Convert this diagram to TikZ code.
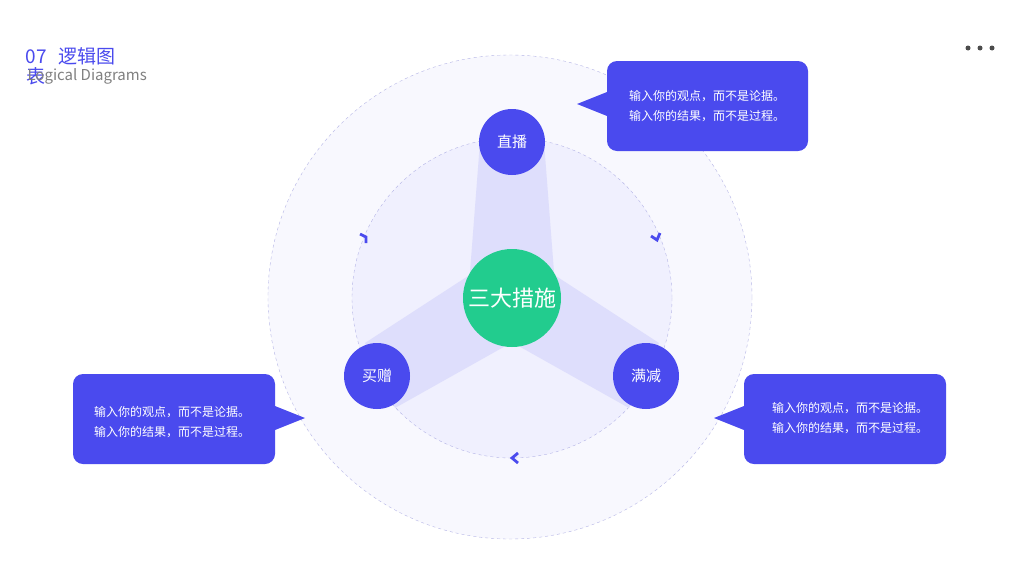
\documentclass[tikz,border=0pt]{standalone}
\usepackage{fontspec}
\setmainfont{Noto Sans CJK SC}
\usetikzlibrary{positioning}
\definecolor{mainblue}{HTML}{4A4AEE}
\definecolor{mintgreen}{HTML}{22CC8E}
\definecolor{ringline}{HTML}{B4B4E6}
\tikzset{
  hub/.style={circle,fill=mainblue,text=white,minimum size=66pt,inner sep=0pt,font=\fontsize{15}{17}\selectfont},
  core/.style={circle,fill=mintgreen,text=white,minimum size=98pt,inner sep=0pt,font=\fontsize{22}{24}\selectfont},
  bubble/.style={fill=mainblue,rounded corners=10pt},
  bubbletext/.style={text=white,align=left,font=\fontsize{12}{20}\selectfont},
  chev/.style={mainblue,line width=2.8pt},
}
\begin{document}
\begin{tikzpicture}[x=1pt,y=-1pt]
	\useasboundingbox (0,0) rectangle (1024,576);
	\fill[white] (0,0) rectangle (1024,576);
	% rings
	\fill[mainblue!4] (510,297) circle (242);
	\draw[ringline,dashed] (510,297) circle (242);
	\fill[mainblue!8] (512,298) circle (160);
	\draw[ringline,dashed] (512,298) circle (160);
	% beams
	\fill[mainblue!18] (480,142)--(544,142)--(556,298)--(468,298)--cycle;
	\fill[mainblue!18] (365,343)--(395,408)--(525,335)--(485,265)--cycle;
	\fill[mainblue!18] (659,343)--(629,408)--(499,335)--(539,265)--cycle;
	% nodes
	\node[core] (core) at (512,298) {三大措施};
	\node[hub] (live) at (512,142) {直播};
	\node[hub] (gift) at (377,376) {买赠};
	\node[hub] (cut) at (646,376) {满减};
	% chevrons
	\draw[chev] (360,234)--(366,237)--(366,243);
	\draw[chev] (651,236)--(657,240)--(660,233);
	\draw[chev] (518,453)--(512,458)--(518,463);
	% callouts
	\fill[bubble] (607,61) rectangle (808,151);
	\fill[mainblue] (577,104)--(612,90)--(612,118)--cycle;
	\node[bubbletext] (tipa) at (707,106) {输入你的观点，而不是论据。\\输入你的结果，而不是过程。};
	\fill[bubble] (73,374) rectangle (275,464);
	\fill[mainblue] (305,418)--(270,404)--(270,432)--cycle;
	\node[bubbletext] (tipb) at (172,422) {输入你的观点，而不是论据。\\输入你的结果，而不是过程。};
	\fill[bubble] (744,374) rectangle (946,464);
	\fill[mainblue] (714,418)--(749,404)--(749,432)--cycle;
	\node[bubbletext] (tipc) at (850,418) {输入你的观点，而不是论据。\\输入你的结果，而不是过程。};
	% title
	\node[anchor=west,text=mainblue,font=\fontsize{19}{20}\selectfont] (title) at (22,56) {07\hspace{12pt}逻辑图};
	\node[anchor=north west,text=mainblue,font=\fontsize{19}{20}\selectfont,inner sep=0pt] (title2) at (26,67) {表};
	\node[anchor=west,text=gray,font=\fontsize{15}{16}\selectfont] (sub) at (24,76) {Logical Diagrams};
	% menu dots
	\foreach \dx in {968,980,992}
		\fill[black!70] (\dx,48) circle (2.5);
\end{tikzpicture}
\end{document}
